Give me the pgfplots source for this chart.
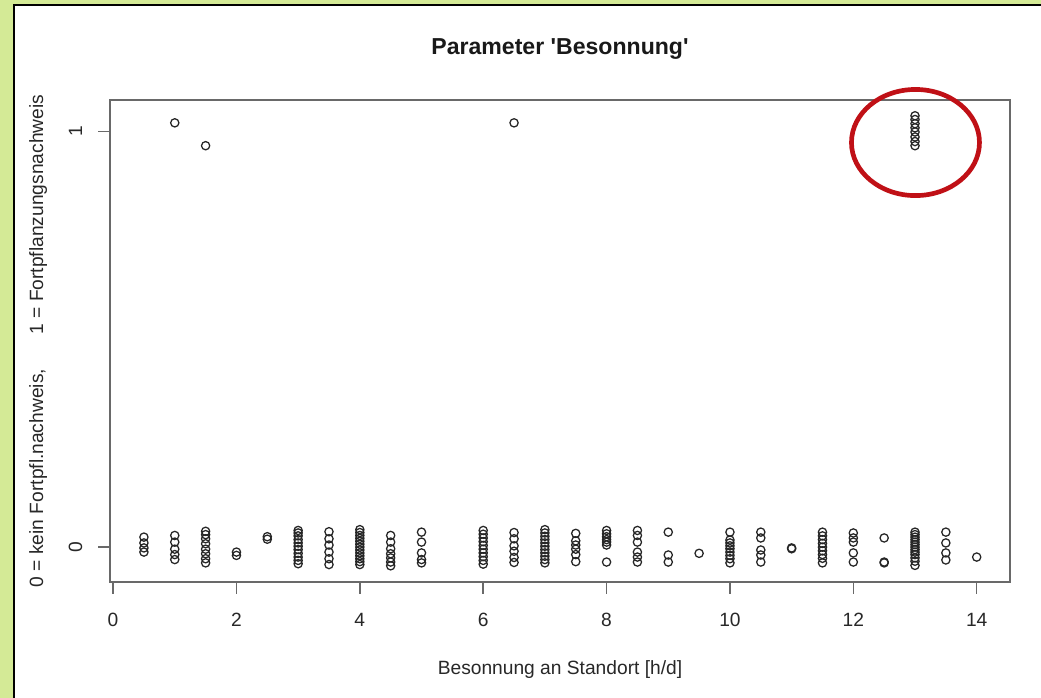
\documentclass[border=0pt]{standalone}
\usepackage{fontspec}
\setmainfont{Liberation Sans}
\usepackage{pgfplots}
\usepackage{pgfplotstable}
\pgfplotsset{compat=1.18}
\definecolor{bggreen}{RGB}{212,234,150}
\definecolor{ringred}{RGB}{192,16,22}
\definecolor{axgray}{RGB}{105,105,105}
\definecolor{txt}{RGB}{40,40,40}

\pgfplotstableread{
x y
0.5 0.024
0.5 0.010
0.5 -0.002
0.5 -0.012
1 0.028
1 0.012
1 -0.005
1 -0.018
1 -0.030
1.5 0.038
1.5 0.030
1.5 0.020
1.5 0.008
1.5 -0.005
1.5 -0.016
1.5 -0.028
1.5 -0.038
2 -0.012
2 -0.020
2.5 0.025
2.5 0.019
3 0.040
3 0.034
3 0.027
3 0.018
3 0.010
3 0.002
3 -0.006
3 -0.015
3 -0.024
3 -0.032
3 -0.040
3.5 0.037
3.5 0.020
3.5 0.005
3.5 -0.012
3.5 -0.028
3.5 -0.042
4 0.042
4 0.035
4 0.028
4 0.021
4 0.014
4 0.007
4 0.000
4 -0.007
4 -0.014
4 -0.021
4 -0.028
4 -0.035
4 -0.042
4.5 0.028
4.5 0.012
4.5 -0.004
4.5 -0.016
4.5 -0.026
4.5 -0.036
4.5 -0.045
5 0.036
5 0.012
5 -0.014
5 -0.030
5 -0.038
6 0.040
6 0.031
6 0.022
6 0.013
6 0.004
6 -0.005
6 -0.014
6 -0.023
6 -0.032
6 -0.041
6.5 0.035
6.5 0.020
6.5 0.003
6.5 -0.010
6.5 -0.025
6.5 -0.037
7 0.042
7 0.034
7 0.026
7 0.018
7 0.010
7 0.002
7 -0.006
7 -0.014
7 -0.022
7 -0.030
7 -0.038
7.5 0.033
7.5 0.015
7.5 0.005
7.5 -0.005
7.5 -0.018
7.5 -0.035
8 0.040
8 0.032
8 0.025
8 0.018
8 0.012
8 0.005
8 -0.036
8.5 0.040
8.5 0.028
8.5 0.012
8.5 -0.012
8.5 -0.024
8.5 -0.036
9 0.036
9 -0.019
9 -0.036
9.5 -0.015
10 0.036
10 0.017
10 0.010
10 0.003
10 -0.004
10 -0.012
10 -0.020
10 -0.028
10 -0.038
10.5 0.036
10.5 0.022
10.5 -0.007
10.5 -0.019
10.5 -0.036
11 -0.002
11 -0.004
11.5 0.036
11.5 0.027
11.5 0.018
11.5 0.009
11.5 0.000
11.5 -0.009
11.5 -0.018
11.5 -0.027
11.5 -0.038
12 0.034
12 0.022
12 0.012
12 -0.014
12 -0.036
12.5 0.022
12.5 -0.036
12.5 -0.038
13 0.036
13 0.030
13 0.024
13 0.018
13 0.012
13 0.006
13 0.000
13 -0.006
13 -0.012
13 -0.018
13 -0.026
13 -0.034
13 -0.044
13.5 0.036
13.5 0.010
13.5 -0.014
13.5 -0.031
14 -0.024
1 1.021
1.5 0.966
6.5 1.021
13 1.038
13 1.029
13 1.019
13 1.009
13 0.999
13 0.987
13 0.976
13 0.966
}\pts

\begin{document}
\begin{tikzpicture}
\useasboundingbox (0,0) rectangle (780.75pt,523.5pt);
\fill[bggreen] (0,0) rectangle (780.75pt,523.5pt);
\fill[white] (10.5pt,0) rectangle (780.75pt,519.75pt);
\draw[black, line width=1.5pt] (10.5pt,-3pt) -- (10.5pt,519.75pt) -- (790pt,519.75pt);
\begin{axis}[
  at={(82.5pt,87pt)}, anchor=south west,
  scale only axis, width=675pt, height=361.5pt,
  xmin=-0.05, xmax=14.54, ymin=-0.084, ymax=1.076,
  xtick={0,2,...,14}, ytick={0,1},
  axis line style={axgray, line width=1.1pt},
  tick style={axgray, line width=1.1pt},
  major tick length=9pt,
  tick align=outside, xtick pos=bottom, ytick pos=left,
  /pgf/number format/assume math mode=true,
  ticklabel style={font=\fontsize{14.4}{17}\selectfont, text=txt},
  xticklabel style={anchor=north, inner sep=0pt},
  xticklabel shift=14pt,
  yticklabel style={rotate=90, anchor=base, inner sep=0pt},
  yticklabel shift=12pt,
  xlabel={Besonnung an Standort [h/d]},
  xlabel style={at={(axis description cs:0.5,0)}, anchor=base, yshift=-69.75pt, inner sep=0pt, font=\fontsize{14.4}{17}\selectfont, text=txt},
  ylabel={0 = kein Fortpfl.nachweis,\hspace{1.8em}1 = Fortpflanzungsnachweis},
  ylabel style={at={(axis description cs:-0.0744,0.5)}, anchor=base, rotate=0, inner sep=0pt, font=\fontsize{14.4}{17}\selectfont, text=txt},
  title={Parameter \textquotesingle Besonnung\textquotesingle},
  title style={at={(axis description cs:0.5,1)}, anchor=base, yshift=27.75pt, inner sep=0pt, font=\bfseries\fontsize{17.3}{20}\selectfont, text=black!90},
  clip=false,
]
\addplot[only marks, mark=o, mark size=3.1pt, mark options={line width=0.95pt, draw=black!85}] table[x=x,y=y] {\pts};
\end{axis}
\draw[ringred, line width=3.5pt] (686.6pt,416.6pt) ellipse [x radius=48pt, y radius=39.8pt];
\end{tikzpicture}
\end{document}
